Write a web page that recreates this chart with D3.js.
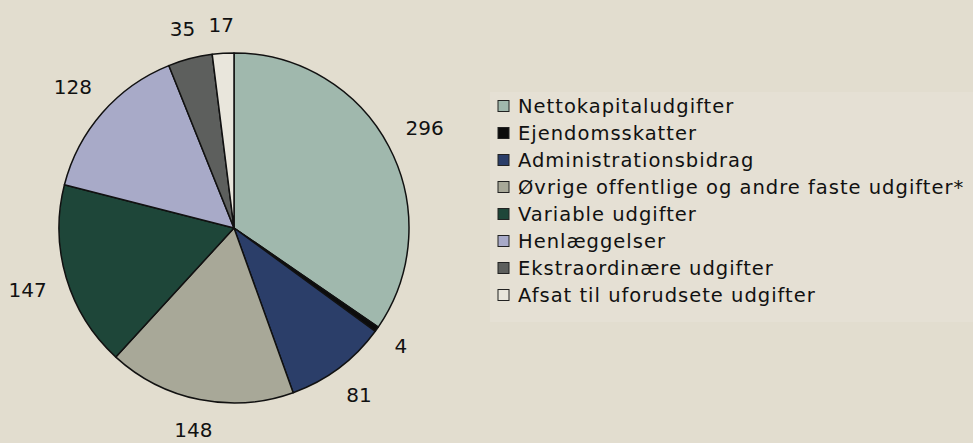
<!DOCTYPE html>
<html>
<head>
<meta charset="utf-8">
<style>
  body { margin: 0; background: #e2ddcf; }
  text { font-family: "DejaVu Sans", Verdana, sans-serif; fill: #111; }
</style>
<script src="https://d3js.org/d3.v7.min.js"></script>
</head>
<body>
<svg id="chart"></svg>
<script>
// data
var categories = [
  "Nettokapitaludgifter",
  "Ejendomsskatter",
  "Administrationsbidrag",
  "Øvrige offentlige og andre faste udgifter*",
  "Variable udgifter",
  "Henlæggelser",
  "Ekstraordinære udgifter",
  "Afsat til uforudsete udgifter"
];
var values = [296, 4, 81, 148, 147, 128, 35, 17];
var colors = ["#a0b8ad", "#0c0c0c", "#2b3e69", "#a8a898", "#1e4639", "#a8aac8", "#5d5f5d", "#e9e6dc"];

var width = 973, height = 443;
var cx = 234, cy = 228, radius = 175, labelGap = 195;

var svg = d3.select("#chart")
    .attr("width", width)
    .attr("height", height);

svg.append("rect")
    .attr("width", width).attr("height", height)
    .attr("fill", "#e2ddcf");

var pie = d3.pie().sort(null).value(function(d) { return d; });
var arcs = pie(values);

var arc = d3.arc().innerRadius(0).outerRadius(radius);

var g = svg.append("g")
    .attr("transform", "translate(" + cx + "," + cy + ")");

g.selectAll(".slice")
    .data(arcs)
  .enter().append("path")
    .attr("class", "slice")
    .attr("d", arc)
    .attr("fill", function(d, i) { return colors[i]; })
    .attr("stroke", "#111")
    .attr("stroke-width", 1.5)
    .attr("stroke-linejoin", "round");

// labels: keep the nearest edge of the text box at a fixed distance from the centre
var labels = g.selectAll(".lbl")
    .data(arcs)
  .enter().append("text")
    .attr("class", "lbl")
    .attr("text-anchor", "middle")
    .attr("dy", "0.36em")
    .style("font-size", "20px")
    .text(function(d) { return d.data; });

labels.attr("transform", function(d) {
  var a = (d.startAngle + d.endAngle) / 2;
  var w = this.getComputedTextLength(), h = 15;
  var r = labelGap + w / 2 * Math.abs(Math.sin(a)) + h / 2 * Math.abs(Math.cos(a));
  return "translate(" + (r * Math.sin(a)) + "," + (-r * Math.cos(a)) + ")";
});

// legend
var legend = svg.append("g").attr("transform", "translate(490,92)");
legend.append("rect")
    .attr("width", 483).attr("height", 230)
    .attr("fill", "#e5e0d4");

var rowH = 27;
var item = legend.selectAll(".item")
    .data(categories)
  .enter().append("g")
    .attr("class", "item")
    .attr("transform", function(d, i) { return "translate(0," + (14 + i * rowH) + ")"; });

item.append("rect")
    .attr("x", 8).attr("y", -5.5)
    .attr("width", 11).attr("height", 11)
    .attr("fill", function(d, i) { return colors[i]; })
    .attr("stroke", "#222").attr("stroke-width", 1);

item.append("text")
    .attr("x", 28)
    .attr("dy", "0.36em")
    .style("font-size", "19.5px")
    .style("letter-spacing", "1px")
    .text(function(d) { return d; });
</script>
</body>
</html>
